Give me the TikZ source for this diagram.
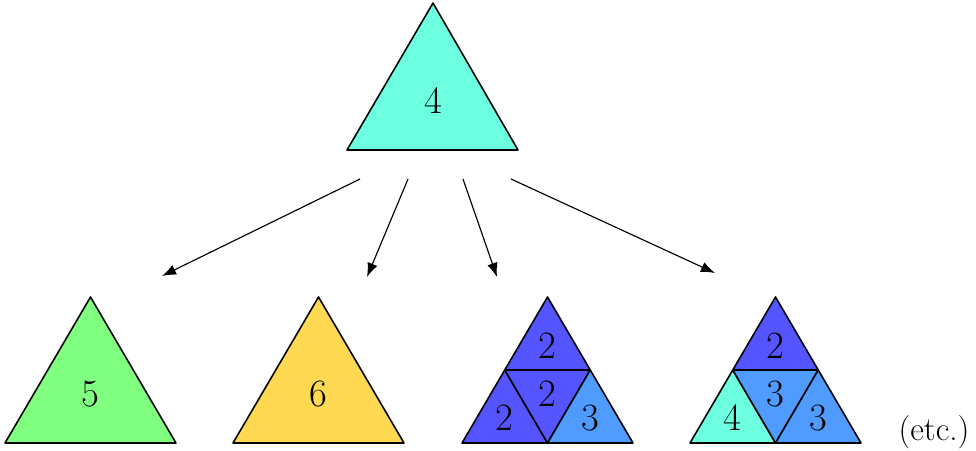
\documentclass[tikz,border=0pt]{standalone}
\usetikzlibrary{arrows.meta}
\definecolor{aqua}{RGB}{108,255,224}
\definecolor{lgreen}{RGB}{128,255,128}
\definecolor{lyellow}{RGB}{255,217,82}
\definecolor{dblue}{RGB}{85,85,255}
\definecolor{lblue}{RGB}{80,155,255}
\tikzset{tri/.style={draw,line width=.9pt,line join=round},
  num/.style={font=\fontsize{22}{24}\selectfont}}
\begin{document}
\begin{tikzpicture}[x=.02cm,y=-.02cm]
\useasboundingbox (0,0) rectangle (976,450);
\filldraw[tri,fill=aqua] (347,150) -- (433,3) -- (518,150) -- cycle;
\node[num] (top) at (433,101){4};
\filldraw[tri,fill=lgreen] (5,443) -- (90.5,297) -- (176,443) -- cycle;
\node[num] (five) at (90.5,394){5};
\filldraw[tri,fill=lyellow] (233,443) -- (318.5,297) -- (404,443) -- cycle;
\node[num] (six) at (318.5,394){6};
\begin{scope}[shift={(462,0)}]
\filldraw[tri,fill=dblue] (0,443) -- (42.75,370) -- (85.5,443) -- cycle;
\filldraw[tri,fill=dblue] (42.75,370) -- (85.5,297) -- (128.25,370) -- cycle;
\filldraw[tri,fill=dblue] (42.75,370) -- (128.25,370) -- (85.5,443) -- cycle;
\filldraw[tri,fill=lblue] (85.5,443) -- (128.25,370) -- (171,443) -- cycle;
\node[num] (p1) at (85.5,346){2};
\node[num] (p2) at (42.75,418){2};
\node[num] (p3) at (85.5,394){2};
\node[num] (p4) at (128.25,418){3};
\end{scope}
\begin{scope}[shift={(690,0)}]
\filldraw[tri,fill=aqua] (0,443) -- (42.75,370) -- (85.5,443) -- cycle;
\filldraw[tri,fill=dblue] (42.75,370) -- (85.5,297) -- (128.25,370) -- cycle;
\filldraw[tri,fill=lblue] (42.75,370) -- (128.25,370) -- (85.5,443) -- cycle;
\filldraw[tri,fill=lblue] (85.5,443) -- (128.25,370) -- (171,443) -- cycle;
\node[num] (q1) at (85.5,346){2};
\node[num] (q2) at (42.75,418){4};
\node[num] (q3) at (85.5,394){3};
\node[num] (q4) at (128.25,418){3};
\end{scope}
\node[font=\fontsize{19}{21}\selectfont] (etc) at (934,432){(etc.)};
\coordinate (s1) at (360,179);
\coordinate (s2) at (408,179);
\coordinate (s3) at (463,179);
\coordinate (s4) at (511,179);
\coordinate (e1) at (162,276);
\coordinate (e2) at (367,277);
\coordinate (e3) at (497,277);
\coordinate (e4) at (715,273);
\foreach \i in {1,...,4}
  \draw[-{Latex[length=8pt,width=6pt]},line width=.65pt] (s\i) -- (e\i);
\end{tikzpicture}
\end{document}
